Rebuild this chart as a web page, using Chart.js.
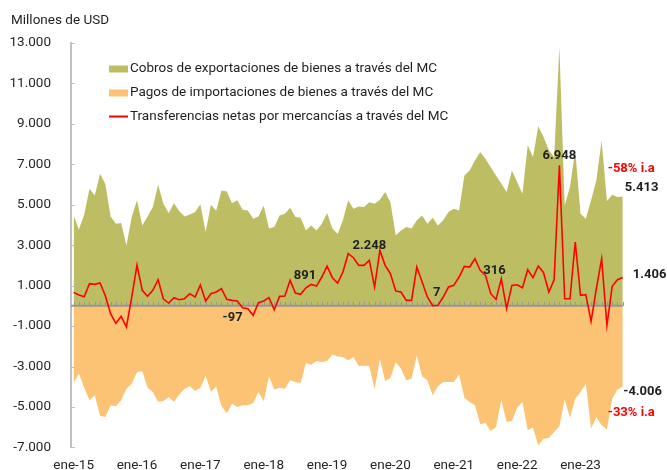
<!DOCTYPE html>
<html><head><meta charset="utf-8">
<script src="https://cdn.jsdelivr.net/npm/chart.js@4/dist/chart.umd.min.js"></script>
<style>html,body{margin:0;padding:0;background:#fff}#wrap{width:667px;height:470px;position:relative}</style>
</head><body><div id="wrap"><canvas id="c" width="667" height="470"></canvas></div>
<script>
// ---- categories (ene-15 .. sep-23) ----
const monthNames = ['ene','feb','mar','abr','may','jun','jul','ago','sep','oct','nov','dic'];
const years = ['15','16','17','18','19','20','21','22','23'];
const categories = [];
years.forEach(y => monthNames.forEach(m => categories.push(m + '-' + y)));
categories.length = 105;

// ---- series (millones de USD) ----
const cobros = [
 4470,3780,4520,5790,5460,6530,6040,4420,4060,4100,2990,4390,
 5220,3980,4420,4890,5990,5050,4590,5080,4690,4420,4520,4640,
 5020,3650,5000,4700,5710,5660,5080,5220,4750,4720,4310,4420,
 4950,3820,3900,4470,4560,4850,4390,4360,3730,3980,3730,4060,
 4590,3820,3570,4230,5220,4800,4920,4890,5130,5050,5250,5630,
 5130,3490,3730,3900,3820,4230,4470,4060,4360,3980,4230,4640,
 4800,4720,6450,6700,7190,7610,7280,6860,6450,6040,5630,6700,
 6120,5550,7940,7360,8880,8350,7690,7360,12800,4970,5880,7690,
 4560,4310,5220,6210,8180,5180,5500,5380,5413];
const pagos = [
 -3830,-3340,-4050,-4670,-4425,-5440,-5500,-4930,-4960,-4670,-4095,-3850,
 -3270,-3240,-4050,-4260,-4740,-4710,-4510,-4740,-4380,-4095,-3980,-4210,
 -4045,-3460,-4250,-4000,-4950,-5310,-4840,-5000,-4920,-4920,-4800,-4260,
 -4720,-3490,-4140,-4045,-4095,-3680,-3770,-3820,-2830,-2910,-2730,-2780,
 -2730,-2410,-2500,-2530,-2690,-2530,-2975,-2960,-2975,-4140,-2610,-3730,
 -3550,-2780,-3110,-3680,-3600,-2450,-3490,-3680,-4425,-3980,-3770,-3770,
 -3770,-3390,-4540,-4750,-4920,-5860,-5790,-6190,-5990,-4640,-5740,-5690,
 -5035,-4750,-6155,-6020,-6900,-6570,-6520,-6240,-5960,-4640,-5530,-4590,
 -4260,-3850,-6070,-5500,-5910,-6120,-4590,-4140,-4006];
const netas = [
 667,536,453,1096,1063,1129,503,-387,-865,-519,-1046,437,
 2019,766,470,766,1294,338,140,404,305,354,602,437,
 1030,239,602,684,849,321,272,239,-97,-140,-470,157,
 239,404,-190,470,486,1261,634,569,891,1063,980,1426,
 1969,1393,1129,1673,2579,2381,2002,2002,2248,931,2744,2002,
 1590,733,684,272,272,1920,1178,437,7,25,437,931,
 1013,1426,1953,1920,2332,1755,1508,601,316,1343,-140,1013,
 1046,898,1788,1393,1969,1640,684,1294,6948,354,354,3156,
 519,552,-766,849,2332,-964,964,1294,1406];

// ---- texts ----
const seriesNames = [
 'Cobros de exportaciones de bienes a través del MC',
 'Pagos de importaciones de bienes a través del MC',
 'Transferencias netas por mercancías a través del MC'];
const yTickValues = [-7000,-5000,-3000,-1000,1000,3000,5000,7000,9000,11000,13000];
const labeledMonths = [32,44,56,68,80,92,104];
const varCobros = '-58% i.a';
const varPagos = '-33% i.a';
const unitTitle = 'Millones de USD';

const GREEN = '#bdbe63', ORANGE = '#fcc374', RED = '#ff0000', TXT = '#1f1f1f';
const FS = 13.5;
const fmt = v => (v < 0 ? '-' : '') + Math.abs(Math.round(v)).toString().replace(/\B(?=(\d{3})+(?!\d))/g, '.');

const labelOffsets = {32:[-10,10],44:[-1,-12.5],56:[0,-15],68:[4,-13],80:[-1.5,-29],92:[0,-10]};

const decor = {
  id: 'decor',
  beforeDatasetDraw(chart, args) {
    if (args.index !== 0) return;
    const {ctx, scales: {x, y}, chartArea} = chart;
    const y0 = y.getPixelForValue(0);
    const xe = x.getPixelForValue(categories.length - 1);
    ctx.save();
    ctx.strokeStyle = '#969696';
    ctx.lineWidth = 2;
    ctx.beginPath(); ctx.moveTo(chartArea.left, y0); ctx.lineTo(xe, y0); ctx.stroke();
    ctx.lineWidth = 1;
    ctx.beginPath();
    for (let i = 0; i < categories.length; i++) {
      const px = Math.round(x.getPixelForValue(i)) + 0.5;
      ctx.moveTo(px, y0); ctx.lineTo(px, y0 - 4);
    }
    ctx.stroke();
    ctx.restore();
  },
  afterDraw(chart) {
    const {ctx, scales: {x, y}, chartArea} = chart;
    ctx.save();
    // inner y ticks
    ctx.strokeStyle = '#c0c0c0'; ctx.lineWidth = 1;
    ctx.beginPath();
    yTickValues.forEach(v => { const py = Math.round(y.getPixelForValue(v)) + 0.5; ctx.moveTo(chartArea.left, py); ctx.lineTo(chartArea.left + 4, py); });
    ctx.stroke();
    // title
    ctx.fillStyle = TXT; ctx.font = FS + 'px Roboto'; ctx.textBaseline = 'middle'; ctx.textAlign = 'left';
    ctx.fillText(unitTitle, 11, 21);
    // legend
    const lx = 109, ly = [69, 93, 116.5];
    ctx.fillStyle = GREEN; ctx.fillRect(lx, ly[0] - 3.5, 19, 7);
    ctx.fillStyle = ORANGE; ctx.fillRect(lx, ly[1] - 3.5, 19, 7);
    ctx.strokeStyle = RED; ctx.lineWidth = 2;
    ctx.beginPath(); ctx.moveTo(lx, ly[2]); ctx.lineTo(lx + 19, ly[2]); ctx.stroke();
    ctx.fillStyle = TXT;
    seriesNames.forEach((n, k) => ctx.fillText(n, lx + 21, ly[k]));
    // point labels
    ctx.font = 'bold 13px Roboto'; ctx.textAlign = 'center';
    labeledMonths.forEach(i => {
      if (i === categories.length - 1) return;
      const [dx, dy] = labelOffsets[i];
      ctx.fillText(fmt(netas[i]), x.getPixelForValue(i) + dx, y.getPixelForValue(netas[i]) + dy);
    });
    const last = categories.length - 1;
    const xl = x.getPixelForValue(last);
    ctx.textAlign = 'left';
    ctx.fillText(fmt(netas[last]), xl + 10, y.getPixelForValue(netas[last]) - 3);
    ctx.fillText(fmt(cobros[last]), xl + 2, y.getPixelForValue(cobros[last]) - 8.5);
    ctx.fillText(fmt(pagos[last]), xl + 0.5, y.getPixelForValue(pagos[last]) + 4.5);
    ctx.fillStyle = RED;
    ctx.fillText(varCobros, xl - 15, y.getPixelForValue(cobros[last]) - 28);
    ctx.fillText(varPagos, xl - 15, y.getPixelForValue(pagos[last]) + 25.5);
    ctx.restore();
  }
};

new Chart(document.getElementById('c'), {
  type: 'line',
  data: {
    labels: categories,
    datasets: [
      {label: seriesNames[2], data: netas, borderColor: RED, borderWidth: 1.6, pointRadius: 0, fill: false, tension: 0},
      {label: seriesNames[0], data: cobros, borderColor: 'rgba(0,0,0,0)', borderWidth: 0, backgroundColor: GREEN, pointRadius: 0, fill: 'origin', tension: 0},
      {label: seriesNames[1], data: pagos, borderColor: 'rgba(0,0,0,0)', borderWidth: 0, backgroundColor: ORANGE, pointRadius: 0, fill: 'origin', tension: 0}
    ]
  },
  options: {
    responsive: false, animation: false, devicePixelRatio: 1, events: [],
    layout: {padding: {top: 43, right: 41.6, bottom: 0, left: 0}},
    plugins: {legend: {display: false}, tooltip: {enabled: false}},
    scales: {
      x: {
        type: 'category', offset: true,
        grid: {display: false, drawTicks: false}, border: {display: false},
        ticks: {autoSkip: false, maxRotation: 0, minRotation: 0, padding: 10, color: '#262626',
          font: {family: 'Roboto', size: FS},
          callback: (v, i) => categories[i].startsWith('ene') ? categories[i] : ''},
        afterFit: s => { s.height = 22.6; }
      },
      y: {
        min: -7000, max: 13000,
        grid: {display: false, drawTicks: false},
        border: {display: true, color: '#c0c0c0', width: 2},
        ticks: {stepSize: 2000, padding: 20, color: '#262626', font: {family: 'Roboto', size: FS}, callback: v => fmt(v)},
        afterFit: s => { s.width = 71; s.paddingTop = 0; s.paddingBottom = 0; }
      }
    }
  },
  plugins: [decor]
});
</script>
</body></html>
